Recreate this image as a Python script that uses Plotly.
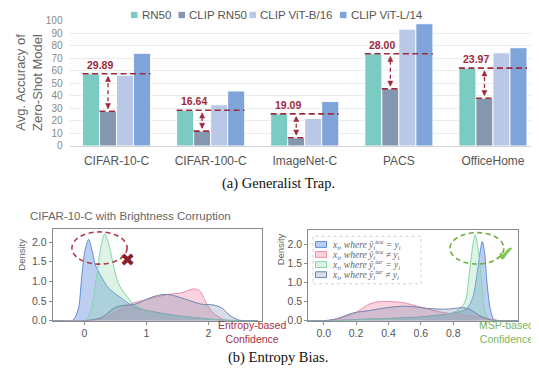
import plotly.graph_objects as go

W, H = 539, 374
OFF = 8  # page body margin offset of the figure in the browser
def PX(x): return (x - OFF) / W
def PY(y): return 1 - (y - OFF) / H

# ---------------- data ----------------
datasets = ["CIFAR-10-C", "CIFAR-100-C", "ImageNet-C", "PACS", "OfficeHome"]
models = ["RN50", "CLIP RN50", "CLIP ViT-B/16", "CLIP ViT-L/14"]
acc_rn50 = [57.5, 28.5, 25.6, 73.5, 62.0]
acc_clip_rn50 = [27.61, 11.86, 6.51, 45.50, 38.03]
acc_vit_b16 = [56.3, 32.8, 21.9, 93.0, 74.2]
acc_vit_l14 = [73.8, 43.8, 35.4, 97.4, 78.3]
gaps = [29.89, 16.64, 19.09, 28.00, 23.97]
bar_colors = ["#7BCBC3", "#8597AF", "#B8C8E6", "#7FA4DA"]

# Entropy densities (left panel)
ent_tea_ok_x = [-0.5, -0.2, -0.15, -0.09, -0.04, 0.016, 0.07, 0.12, 0.18, 0.26, 0.39, 0.55, 0.82, 1.17, 1.5, 1.95, 2.3, 2.8]
ent_tea_ok_y = [0, 0, 0.08, 0.34, 1.16, 1.82, 2.07, 1.82, 1.41, 1.16, 0.83, 0.63, 0.34, 0.21, 0.13, 0.05, 0.01, 0]
ent_tea_bad_x = [-0.5, 0.1, 0.3, 0.5, 0.77, 1.09, 1.35, 1.57, 1.76, 1.87, 1.95, 2.05, 2.19, 2.3, 2.8]
ent_tea_bad_y = [0, 0, 0.05, 0.2, 0.44, 0.57, 0.67, 0.71, 0.81, 0.75, 0.5, 0.24, 0.07, 0, 0]
ent_tar_ok_x = [-0.5, 0.0, 0.06, 0.12, 0.2, 0.26, 0.33, 0.39, 0.47, 0.55, 0.66, 0.82, 1.04, 1.17, 1.5, 1.95, 2.3, 2.8]
ent_tar_ok_y = [0, 0, 0.08, 0.34, 1.16, 1.82, 2.21, 1.98, 1.41, 0.95, 0.67, 0.38, 0.24, 0.19, 0.12, 0.05, 0.01, 0]
ent_tar_bad_x = [-0.5, 0.0, 0.15, 0.29, 0.5, 0.64, 0.82, 1.09, 1.3, 1.46, 1.68, 1.89, 2.08, 2.22, 2.35, 2.48, 2.6, 2.8]
ent_tar_bad_y = [0, 0, 0.03, 0.09, 0.34, 0.39, 0.42, 0.6, 0.67, 0.63, 0.52, 0.42, 0.40, 0.32, 0.13, 0.02, 0, 0]

# MSP densities (right panel)
msp_tea_ok_x = [-0.1, 0.05, 0.2, 0.4, 0.6, 0.8, 0.88, 0.92, 0.954, 0.965, 0.979, 0.993, 1.006, 1.027, 1.05, 1.08, 1.2]
msp_tea_ok_y = [0, 0.0, 0.03, 0.06, 0.1, 0.2, 0.3, 0.6, 1.43, 1.77, 2.07, 1.8, 1.1, 0.34, 0.04, 0, 0]
msp_tea_bad_x = [-0.1, 0.02, 0.07, 0.18, 0.286, 0.35, 0.49, 0.61, 0.74, 0.86, 0.985, 1.05, 1.1, 1.2]
msp_tea_bad_y = [0, 0, 0.03, 0.17, 0.44, 0.5, 0.47, 0.34, 0.21, 0.15, 0.08, 0.02, 0, 0]
msp_tar_ok_x = [-0.1, 0.05, 0.2, 0.4, 0.6, 0.75, 0.82, 0.86, 0.88, 0.9, 0.92, 0.935, 0.954, 0.975, 0.995, 1.02, 1.2]
msp_tar_ok_y = [0, 0, 0.02, 0.05, 0.08, 0.15, 0.25, 0.4, 0.59, 1.27, 1.94, 2.24, 1.86, 1.0, 0.25, 0.03, 0]
msp_tar_bad_x = [-0.1, 0.0, 0.08, 0.18, 0.29, 0.39, 0.51, 0.64, 0.76, 0.86, 0.9, 0.965, 1.03, 1.08, 1.2]
msp_tar_bad_y = [0, 0.0, 0.05, 0.2, 0.27, 0.34, 0.38, 0.32, 0.3, 0.34, 0.3, 0.13, 0.02, 0, 0]

legend_labels = [
    "x<sub>i</sub>, where ŷ<sub>i</sub><sup>tea</sup> = y<sub>i</sub>",
    "x<sub>i</sub>, where ŷ<sub>i</sub><sup>tea</sup> ≠ y<sub>i</sub>",
    "x<sub>i</sub>, where ŷ<sub>i</sub><sup>tar</sup> = y<sub>i</sub>",
    "x<sub>i</sub>, where ŷ<sub>i</sub><sup>tar</sup> ≠ y<sub>i</sub>",
]
line_cols = ["#5F8DDA", "#EE8EA6", "#86D3AA", "#6F86AC"]
fill_cols = ["rgba(95,140,220,0.42)", "rgba(240,140,165,0.38)",
             "rgba(140,215,170,0.30)", "rgba(120,140,180,0.30)"]

DARKRED = "#9E2A3A"
GREY = "#666666"
SANS = "Liberation Sans, Arial, sans-serif"
SERIF = "Liberation Serif, Times New Roman, serif"

fig = go.Figure()

# ---------------- top bar chart ----------------
for name, vals, col in zip(models, [acc_rn50, acc_clip_rn50, acc_vit_b16, acc_vit_l14], bar_colors):
    fig.add_trace(go.Bar(x=datasets, y=vals, name=name, marker_color=col,
                         marker_line=dict(color="rgba(255,255,255,0.9)", width=1),
                         xaxis="x", yaxis="y", showlegend=False))

bargap = 0.277
bw = (1 - bargap) / 4
shapes = []
annotations = []

def note(x, y, text, size, color, family=SANS, xanchor="center", yanchor="middle", **kw):
    d = dict(x=x, y=y, xref="paper", yref="paper", text=text, showarrow=False,
             xanchor=xanchor, yanchor=yanchor, font=dict(size=size, color=color, family=family))
    d.update(kw)
    annotations.append(d)

arrow_x, arrow_y, arrow_sym = [], [], []
for i, (r, c, g) in enumerate(zip(acc_rn50, acc_clip_rn50, gaps)):
    dl = dict(color=DARKRED, width=1.6, dash="6px,3.5px")
    shapes.append(dict(type="line", xref="x", yref="y", x0=i - 2 * bw, x1=i + 2 * bw, y0=r, y1=r, line=dl))
    shapes.append(dict(type="line", xref="x", yref="y", x0=i - bw, x1=i, y0=c, y1=c, line=dl))
    xc = i - 0.5 * bw
    shapes.append(dict(type="line", xref="x", yref="y", x0=xc, x1=xc, y0=c + 2.5, y1=r - 2.5,
                       line=dict(color=DARKRED, width=1.3, dash="4px,3px")))
    arrow_x += [xc, xc]
    arrow_y += [r - 2.2, c + 2.2]
    arrow_sym += ["arrow-up", "arrow-down"]
    annotations.append(dict(x=i - bw, y=r, xref="x", yref="y", text=f"<b>{g:.2f}</b>", showarrow=False,
                            xanchor="center", yanchor="bottom", yshift=1,
                            font=dict(size=10.5, color=DARKRED, family=SANS)))

fig.add_trace(go.Scatter(x=arrow_x, y=arrow_y, mode="markers", xaxis="x4", yaxis="y",
                         marker=dict(symbol=arrow_sym, size=5, color=DARKRED,
                                     line=dict(width=0.6, color=DARKRED)),
                         showlegend=False, hoverinfo="skip"))

# manual top legend
leg_sq_x = [131, 178.5, 249.5, 340]
for sx, name, col in zip(leg_sq_x, models, bar_colors):
    shapes.append(dict(type="rect", xref="paper", yref="paper", x0=PX(sx), x1=PX(sx + 6.5),
                       y0=PY(13.3), y1=PY(6.8), fillcolor=col, line=dict(width=0)))
    note(PX(sx + 8.5), PY(10), name, 11.5, "#555555", xanchor="left")

note(PX(29), PY(80), "Avg. Accuracy of<br>Zero-Shot Model", 13, GREY, textangle=-90)
note(PX(278), PY(184), "(a) Generalist Trap.", 14.5, "#111111", family=SERIF)

# ---------------- bottom density panels ----------------
ent = [(ent_tea_ok_x, ent_tea_ok_y), (ent_tea_bad_x, ent_tea_bad_y),
       (ent_tar_ok_x, ent_tar_ok_y), (ent_tar_bad_x, ent_tar_bad_y)]
msp = [(msp_tea_ok_x, msp_tea_ok_y), (msp_tea_bad_x, msp_tea_bad_y),
       (msp_tar_ok_x, msp_tar_ok_y), (msp_tar_bad_x, msp_tar_bad_y)]
for k in range(4):
    fig.add_trace(go.Scatter(x=ent[k][0], y=ent[k][1], mode="lines", fill="tozeroy",
                             line=dict(color=line_cols[k], width=1, shape="spline", smoothing=0.8),
                             fillcolor=fill_cols[k], xaxis="x2", yaxis="y2", showlegend=False))
    fig.add_trace(go.Scatter(x=msp[k][0], y=msp[k][1], mode="lines", fill="tozeroy",
                             line=dict(color=line_cols[k], width=1, shape="spline", smoothing=0.8),
                             fillcolor=fill_cols[k], xaxis="x3", yaxis="y3", showlegend=False))

# markers of bias
shapes.append(dict(type="circle", xref="x2", yref="y2", x0=-0.2, x1=0.69, y0=1.44, y1=2.26,
                   line=dict(color="#B23A4A", width=1.6, dash="5px,3.5px")))
annotations.append(dict(x=0.69, y=1.56, xref="x2", yref="y2", text="✖", showarrow=False,
                        xanchor="center", yanchor="middle",
                        font=dict(size=18, color="#8B1E2D", family="DejaVu Sans")))
shapes.append(dict(type="circle", xref="x3", yref="y3", x0=0.78, x1=1.113, y0=1.48, y1=2.30,
                   line=dict(color="#72AE3E", width=1.6, dash="5px,3.5px")))
annotations.append(dict(x=1.125, y=1.75, xref="x3", yref="y3", text="✔", showarrow=False,
                        xanchor="center", yanchor="middle",
                        font=dict(size=21, color="#86C451", family="DejaVu Sans")))

note(PX(28), PY(216.7), "CIFAR-10-C with Brightness Corruption", 11.5, GREY, xanchor="left")
note(PX(22), PY(257), "Density", 9.5, GREY, textangle=-90)
note(PX(280), PY(251.5), "Density", 9.5, GREY, textangle=-90)
note(PX(252), PY(336.5), "Entropy-based<br>Confidence", 10.5, "#A8323F")
note(PX(506), PY(337), "MSP-based<br>Confidence", 10.5, "#7DB55C")
note(PX(278), PY(363), "(b) Entropy Bias.", 14.5, "#111111", family=SERIF)

# manual density legend
shapes.append(dict(type="rect", xref="paper", yref="paper", x0=PX(313), x1=PX(421),
                   y0=PY(287), y1=PY(238), fillcolor="rgba(255,255,255,0.8)",
                   line=dict(color="#D0D0D0", width=1, dash="dot"), layer="above"))
entry_y = [246.5, 256.8, 267.2, 277.6]
for k in range(4):
    shapes.append(dict(type="rect", xref="paper", yref="paper", x0=PX(315.5), x1=PX(326.5),
                       y0=PY(entry_y[k] + 3), y1=PY(entry_y[k] - 3), fillcolor=fill_cols[k],
                       line=dict(color=line_cols[k], width=1), layer="above"))
    note(PX(330), PY(entry_y[k]), "<i>" + legend_labels[k] + "</i>", 9.5, "#666666",
         family=SERIF, xanchor="left")

tickfont_small = dict(size=10.5, color="#555555", family=SANS)
frame = dict(showline=True, mirror=True, linecolor="#8A8A8A", linewidth=1, ticks="outside",
             ticklen=3, tickcolor="#8A8A8A", showgrid=False, zeroline=False, tickfont=tickfont_small)
fig.update_layout(
    width=W, height=H, margin=dict(l=0, r=0, t=0, b=0),
    plot_bgcolor="white", paper_bgcolor="white",
    barmode="group", bargap=bargap, bargroupgap=0,
    showlegend=False,
    xaxis=dict(domain=[PX(69.5), PX(540)], anchor="y", showline=True, linecolor="#D5D5D5",
               ticks="", ticklabelstandoff=4,
               tickfont=dict(size=12, color="#555555", family=SANS), showgrid=False),
    xaxis4=dict(overlaying="x", anchor="y", range=[-0.5, len(datasets) - 0.5], visible=False),
    yaxis=dict(domain=[PY(145), PY(15.7)], anchor="x", range=[0, 100], dtick=10,
               showgrid=True, gridcolor="#EBEBEB", gridwidth=1, zeroline=False, showline=False,
               ticklabelstandoff=6, tickfont=dict(size=10, color="#888888", family=SANS)),
    xaxis2=dict(domain=[PX(52.7), PX(262.3)], anchor="y2", range=[-0.51, 2.87], tickvals=[0, 1, 2], **frame),
    yaxis2=dict(domain=[PY(325), PY(230.7)], anchor="x2", range=[0, 2.33],
                tickvals=[0, 0.5, 1, 1.5, 2], ticktext=["0.0", "0.5", "1.0", "1.5", "2.0"], **frame),
    xaxis3=dict(domain=[PX(308.3), PX(517.7)], anchor="y3", range=[-0.095, 1.198],
                tickvals=[0, 0.2, 0.4, 0.6, 0.8, 1.0], ticktext=["0.0", "0.2", "0.4", "0.6", "0.8", ""], **frame),
    yaxis3=dict(domain=[PY(325), PY(231.5)], anchor="x3", range=[0, 2.37],
                tickvals=[0, 0.5, 1, 1.5, 2], ticktext=["0.0", "0.5", "1.0", "1.5", "2.0"], **frame),
    shapes=shapes, annotations=annotations,
)

fig.write_html("out.html")
